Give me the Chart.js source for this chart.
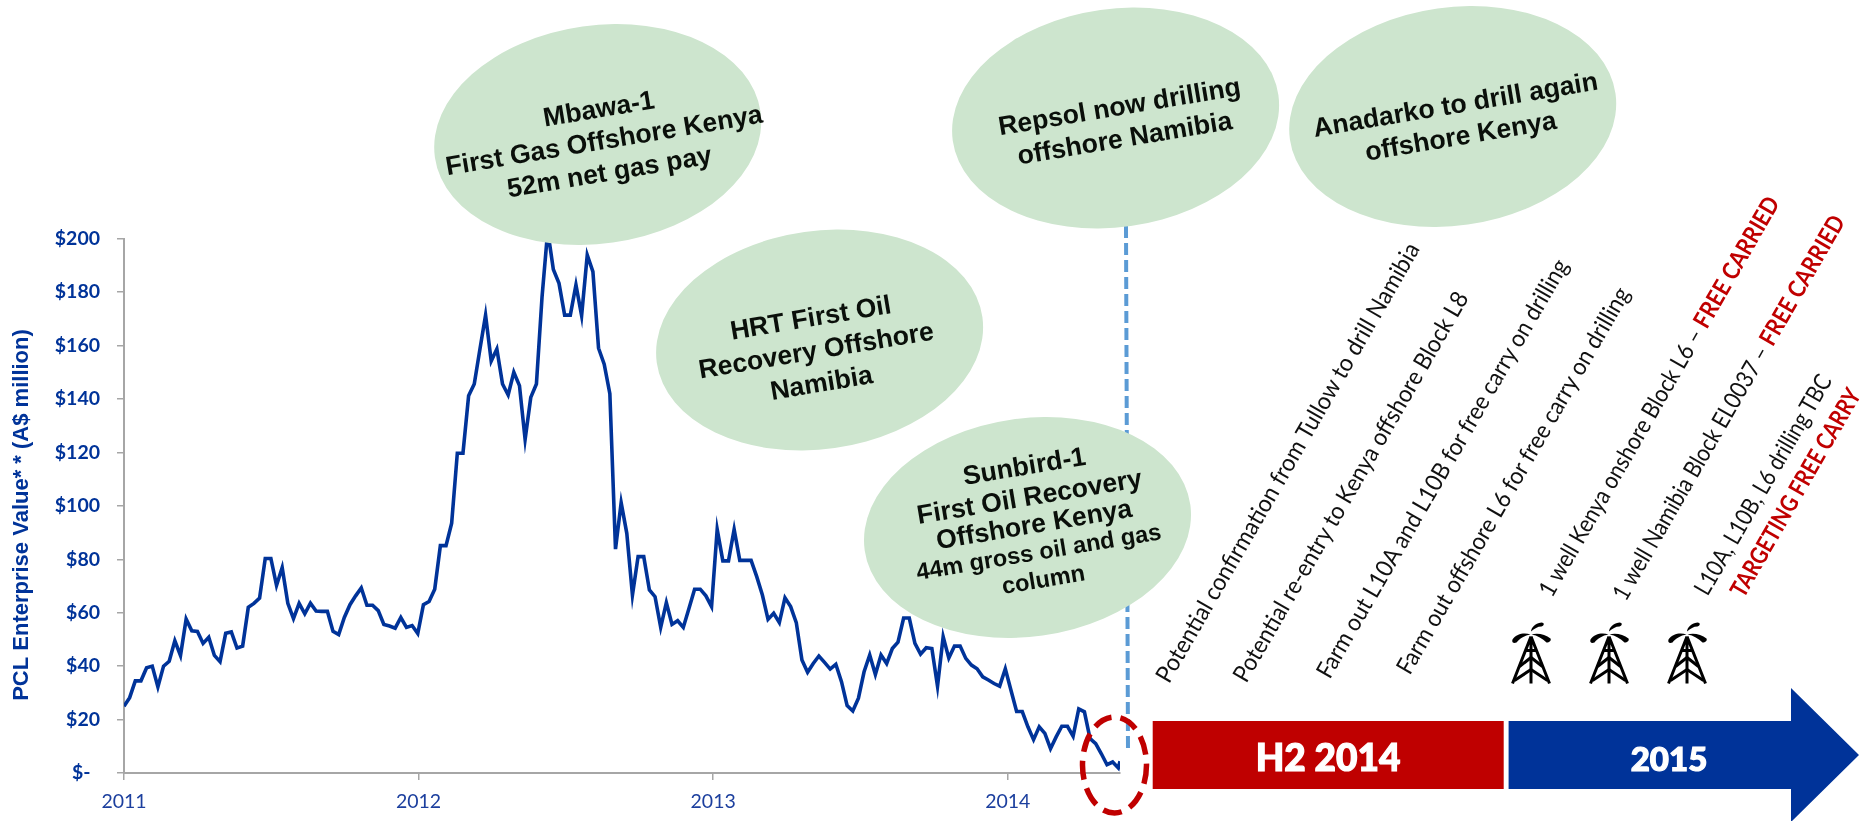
<!DOCTYPE html>
<html>
<head>
<meta charset="utf-8">
<title>PCL Enterprise Value</title>
<script src="https://cdn.jsdelivr.net/npm/chart.js@4"></script>
<style>
  html, body { margin: 0; padding: 0; background: #fff; }
  #wrap { position: relative; width: 1862px; height: 821px; overflow: hidden; }
  canvas { position: absolute; left: 0; top: 0; }
  svg { position: absolute; left: 0; top: 0; }
  .bubble { font: bold 26.6px "Liberation Sans"; fill: #0a0f0a; text-anchor: middle; }
  .small { font-size: 23.6px; }
  .note { font: 24px Lato; fill: #111; }
  .red { fill: #c00000; font-weight: 700; }
  .band { font-family: Lato; font-weight: 900; fill: #fff; stroke: #fff; stroke-width: 1.2; text-anchor: middle; }
</style>
</head>
<body>
<div id="wrap">
  <canvas id="chart" width="1862" height="821"></canvas>
  <svg width="1862" height="821" viewBox="0 0 1862 821">
    <defs>
      <g id="rig">
        <g fill="none" stroke="#000" stroke-width="3">
          <path d="M19.5 14 L1 61 M19.5 14 L38 61 M19.5 14 V61"/>
          <path d="M13.5 28 H25.5 M8 44 L19.5 35 L31 44 M3 58 L19.5 47 L36 58"/>
        </g>
        <path d="M19 12 C13 10 5 11 1 17 C0 20 2 21 5 20 C8 16 13 13 19 12 Z"/>
        <path d="M20 12 C26 10 34 12 39 16 C40 18 38 20 35 20 C31 16 26 13 20 12 Z"/>
        <path d="M19.5 9 C20 5 23 1 30 0 C33 0 33 3 30 4 C26 4 23 6 19.5 9 Z"/>
      </g>
    </defs>

    <!-- dashed marker for today -->
    <line x1="1126" y1="226" x2="1128" y2="753" stroke="#5b9bd5" stroke-width="4" stroke-dasharray="12 5"/>

    <!-- news bubbles -->
    <g fill="#cde5ce">
      <ellipse cx="597.7" cy="134.5" rx="164.4" ry="109.1" transform="rotate(-8 597.7 134.5)"/>
      <ellipse cx="819.6" cy="340" rx="164.4" ry="109.1" transform="rotate(-8 819.6 340)"/>
      <ellipse cx="1115.6" cy="118" rx="164.4" ry="109.1" transform="rotate(-8 1115.6 118)"/>
      <ellipse cx="1452.7" cy="116.5" rx="164.4" ry="109.1" transform="rotate(-8 1452.7 116.5)"/>
      <ellipse cx="1027.5" cy="527.5" rx="164.4" ry="109.1" transform="rotate(-8 1027.5 527.5)"/>
    </g>

    <g transform="translate(604 140) rotate(-9.5)">
      <text class="bubble" y="-23">Mbawa-1</text>
      <text class="bubble" y="9">First Gas Offshore Kenya</text>
      <text class="bubble" y="41">52m net gas pay</text>
    </g>
    <g transform="translate(816 350) rotate(-9.5)">
      <text class="bubble" y="-24">HRT First Oil</text>
      <text class="bubble" y="9">Recovery Offshore</text>
      <text class="bubble" y="42">Namibia</text>
    </g>
    <g transform="translate(1122 122) rotate(-9.5)">
      <text class="bubble" y="-7">Repsol now drilling</text>
      <text class="bubble" y="25">offshore Namibia</text>
    </g>
    <g transform="translate(1458 120) rotate(-9.5)">
      <text class="bubble" y="-7">Anadarko to drill again</text>
      <text class="bubble" y="25">offshore Kenya</text>
    </g>
    <g transform="translate(1034 524) rotate(-9.5)">
      <text class="bubble" y="-50">Sunbird-1</text>
      <text class="bubble" y="-19">First Oil Recovery</text>
      <text class="bubble" y="9">Offshore Kenya</text>
      <text class="bubble small" y="36">44m gross oil and gas</text>
      <text class="bubble small" y="64">column</text>
    </g>

    <!-- red ring round the latest prices -->
    <ellipse cx="1114.5" cy="765" rx="32" ry="48" fill="none" stroke="#c00000" stroke-width="5.5" stroke-dasharray="19 9"/>

    <!-- timeline -->
    <rect x="1152.7" y="721" width="351" height="68" fill="#bf0000"/>
    <path d="M1508.6 721 H1791 V688 L1859 755 L1791 822 V789 H1508.6 Z" fill="#003399"/>
    <text class="band" x="1328" y="771" font-size="37">H2 2014</text>
    <text class="band" x="1669" y="771" font-size="33">2015</text>

    <!-- upcoming events -->
    <text class="note" transform="translate(1169 684.4) rotate(-60)" textLength="503" lengthAdjust="spacingAndGlyphs">Potential confirmation from Tullow to drill Namibia</text>
    <text class="note" transform="translate(1246.3 684) rotate(-60)" textLength="446" lengthAdjust="spacingAndGlyphs">Potential re-entry to Kenya offshore Block L8</text>
    <text class="note" transform="translate(1329.7 680) rotate(-60)" textLength="479" lengthAdjust="spacingAndGlyphs">Farm out L10A and L10B for free carry on drilling</text>
    <text class="note" transform="translate(1409.7 676) rotate(-60)" textLength="442" lengthAdjust="spacingAndGlyphs">Farm out offshore L6 for free carry on drilling</text>
    <text class="note" transform="translate(1551.9 598.4) rotate(-60)" textLength="457" lengthAdjust="spacingAndGlyphs">1 well Kenya onshore Block L6 – <tspan class="red">FREE CARRIED</tspan></text>
    <text class="note" transform="translate(1625.7 602.3) rotate(-60)" textLength="440" lengthAdjust="spacingAndGlyphs">1 well Namibia Block EL0037 – <tspan class="red">FREE CARRIED</tspan></text>
    <text class="note" transform="translate(1707.6 597) rotate(-60)" textLength="250" lengthAdjust="spacingAndGlyphs">L10A, L10B, L6 drilling TBC</text>
    <text class="note red" transform="translate(1743.7 599) rotate(-60)" textLength="236" lengthAdjust="spacingAndGlyphs">TARGETING FREE CARRY</text>

    <!-- rigs -->
    <use href="#rig" x="1511.5" y="622.5"/>
    <use href="#rig" x="1589.5" y="622.5"/>
    <use href="#rig" x="1667.5" y="622.5"/>
  </svg>
</div>

<script>
// PCL enterprise value, A$ million, one reading a week from January 2011
const enterpriseValue = [
  25, 28.2, 34.5, 34.5, 39.4, 40, 32.2, 40, 41.8, 49.5,
  44, 57.6, 53.2, 53, 48.5, 50.8, 44, 41.7, 52.3, 52.8,
  46.8, 47.5, 62, 63.5, 65.5, 80.3, 80.3, 70.2, 76.9, 63.5,
  57.8, 63.5, 59.6, 63.6, 60.6, 60.5, 60.5, 53, 51.8, 58.2,
  63, 66.3, 69.3, 62.8, 62.8, 60.8, 55.6, 55, 54.2, 58.2,
  54.5, 55.2, 52.2, 63, 64.2, 68.8, 85.1, 85.1, 93.5, 119.7,
  119.7, 141.2, 145.6, 158.6, 171.4, 154.2, 158.7, 145.6, 141.5, 150,
  145, 124.9, 140.6, 145.6, 178.3, 203, 188.5, 183.3, 171.4, 171.4,
  182.7, 171.2, 193.9, 187.7, 159, 153, 142, 83.8, 101.2, 89.7,
  66.6, 81, 81, 68.5, 66, 54.5, 63.8, 55.6, 57, 54.5,
  61.6, 68.8, 68.8, 66.3, 62.3, 91.2, 79.4, 79.4, 91.2, 79.6,
  79.6, 79.6, 73.5, 66.6, 57.5, 59.8, 56.3, 65.6, 62.3, 56.3,
  42.3, 37.7, 41, 43.8, 41.4, 38.9, 40.7, 34.2, 25.2, 23.2,
  28, 37.9, 44.2, 36.9, 44.2, 41, 46.6, 49, 58, 58,
  48.5, 44.5, 46.9, 46.6, 32.5, 51, 43, 47.5, 47.5, 42.9,
  40.4, 39, 36, 34.8, 33.5, 32.5, 39, 31, 23, 23,
  17.3, 12.5, 17.3, 14.8, 9.1, 13.5, 17.5, 17.5, 13.8, 24,
  22.9, 12.9, 11, 7.2, 3.1, 4.1, 1.9, 4.4
];
// the last reading comes a little under a week after the one before it
const lastWeek = 176.3;

const yearLabels = ['2011', '2012', '2013', '2014'];
const yearWeeks = [0, 52.14, 104.29, 156.43];
const valueTicks = [0, 20, 40, 60, 80, 100, 120, 140, 160, 180, 200];
const valueTickLabels = ['$-  ', '$20', '$40', '$60', '$80', '$100', '$120', '$140', '$160', '$180', '$200'];

const axisGrey = '#a6a6a6';
const navy = '#003399';

const points = enterpriseValue.map((v, i) => ({
  x: i === enterpriseValue.length - 1 ? lastWeek : i,
  y: v
}));

new Chart(document.getElementById('chart'), {
  type: 'line',
  data: {
    datasets: [{
      label: 'PCL Enterprise Value',
      data: points,
      borderColor: navy,
      borderWidth: 3.6,
      pointRadius: 0,
      tension: 0,
      borderJoinStyle: 'miter'
    }]
  },
  options: {
    responsive: false,
    animation: false,
    layout: { padding: { top: 238.7, right: 742, bottom: 0, left: 0 } },
    plugins: { legend: { display: false }, tooltip: { enabled: false } },
    scales: {
      x: {
        type: 'linear',
        min: 0,
        max: lastWeek,
        afterBuildTicks: axis => { axis.ticks = yearWeeks.map(w => ({ value: w })); },
        afterFit: axis => { axis.height = 48; },
        grid: { drawOnChartArea: false, color: axisGrey, tickLength: 7, lineWidth: 1.5 },
        border: { color: axisGrey, width: 2 },
        ticks: {
          autoSkip: false,
          maxRotation: 0,
          padding: 10,
          color: '#1c3f9e',
          font: { family: 'Lato', size: 19.5 },
          callback: v => yearLabels[yearWeeks.indexOf(v)]
        }
      },
      y: {
        min: 0,
        max: 200,
        afterBuildTicks: axis => { axis.ticks = valueTicks.map(v => ({ value: v })); },
        afterFit: axis => { axis.width = 124; },
        grid: { drawOnChartArea: false, color: axisGrey, tickLength: 7, lineWidth: 1.5 },
        border: { color: axisGrey, width: 2 },
        title: {
          display: true,
          text: 'PCL Enterprise Value* * (A$ million)   ',
          color: navy,
          font: { family: 'Liberation Sans', size: 22, weight: 'bold' },
          padding: { top: 9, bottom: 0 }
        },
        ticks: {
          padding: 17,
          color: navy,
          font: { family: 'Lato', size: 19.5, weight: 'bold' },
          callback: v => valueTickLabels[valueTicks.indexOf(v)]
        }
      }
    }
  }
});
</script>
</body>
</html>
